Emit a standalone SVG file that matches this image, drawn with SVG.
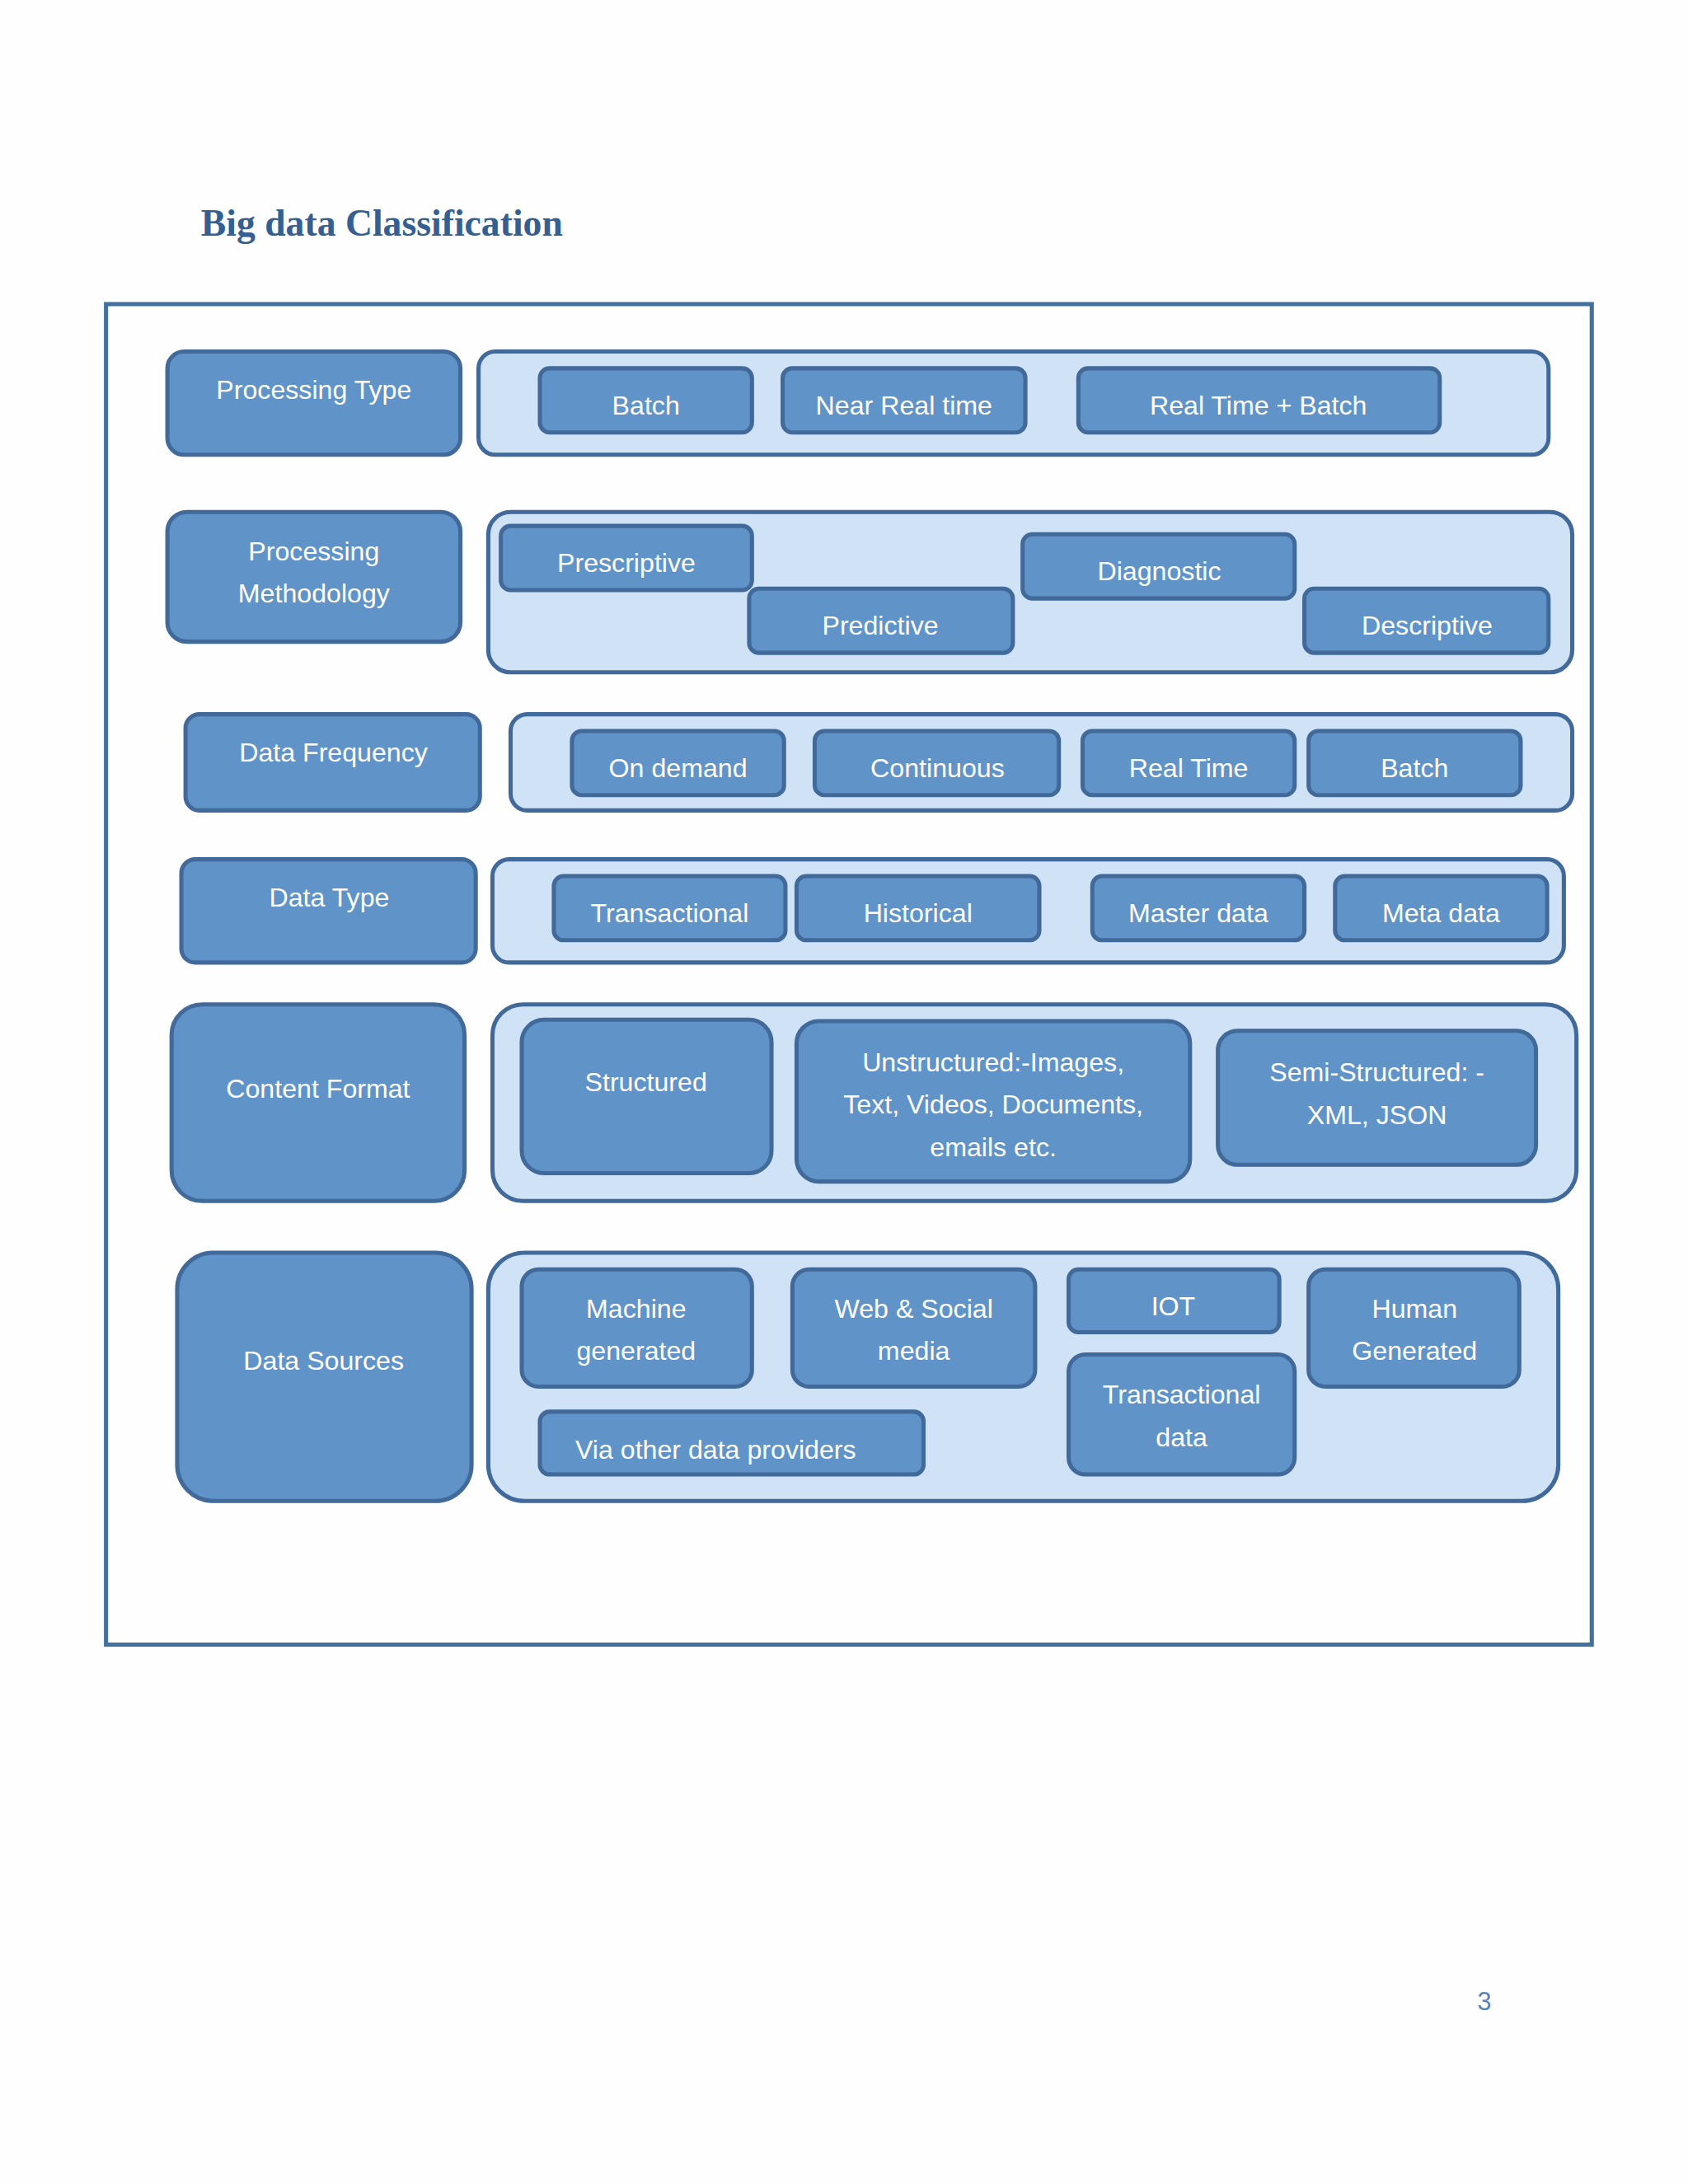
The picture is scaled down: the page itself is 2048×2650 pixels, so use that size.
<svg xmlns="http://www.w3.org/2000/svg" width="2048" height="2650" viewBox="0 0 2048 2650">
<style>
.b{fill:#6094c8;stroke:#41699a;stroke-width:3}
.c{fill:#cfe2f6;stroke:#41699a;stroke-width:3}
text{font-family:"Liberation Sans",Arial,sans-serif;font-size:19px;fill:#fff;text-anchor:middle}
</style>
<rect width="2048" height="2650" fill="#fefefe"/>
<g transform="scale(1.6926)">
<text x="144" y="169" style="font-family:'Liberation Serif',serif;font-weight:bold;font-size:27px;fill:#365f91;text-anchor:start">Big data Classification</text>
<rect id="frame" x="76" y="218" width="1065" height="961" fill="#fefefe" stroke="#41719c" stroke-width="3"/>
<g id="processing-type">
<rect class="b" x="120" y="252" width="210" height="74" rx="12"/><text x="225" y="286">Processing Type</text>
<rect class="c" x="343" y="252" width="767" height="74" rx="12"/>
<rect class="b" x="387" y="264" width="152" height="46" rx="7"/><text x="463" y="297">Batch</text>
<rect class="b" x="561" y="264" width="174" height="46" rx="7"/><text x="648" y="297">Near Real time</text>
<rect class="b" x="773" y="264" width="259" height="46" rx="7"/><text x="902" y="297">Real Time + Batch</text>
</g>
<g id="processing-methodology">
<rect class="b" x="120" y="367" width="210" height="93" rx="14"/><text x="225" y="402">Processing</text><text x="225" y="432">Methodology</text>
<rect class="c" x="350" y="367" width="777" height="115" rx="16"/>
<rect class="b" x="359" y="377" width="180" height="46" rx="7"/><text x="449" y="410">Prescriptive</text>
<rect class="b" x="537" y="422" width="189" height="46" rx="7"/><text x="631" y="455">Predictive</text>
<rect class="b" x="733" y="383" width="195" height="46" rx="7"/><text x="831" y="416">Diagnostic</text>
<rect class="b" x="935" y="422" width="175" height="46" rx="7"/><text x="1023" y="455">Descriptive</text>
</g>
<g id="data-frequency">
<rect class="b" x="133" y="512" width="211" height="69" rx="10"/><text x="239" y="546">Data Frequency</text>
<rect class="c" x="366" y="512" width="761" height="69" rx="12"/>
<rect class="b" x="410" y="524" width="152" height="46" rx="7"/><text x="486" y="557">On demand</text>
<rect class="b" x="584" y="524" width="175" height="46" rx="7"/><text x="672" y="557">Continuous</text>
<rect class="b" x="776" y="524" width="152" height="46" rx="7"/><text x="852" y="557">Real Time</text>
<rect class="b" x="938" y="524" width="152" height="46" rx="7"/><text x="1014" y="557">Batch</text>
</g>
<g id="data-type">
<rect class="b" x="130" y="616" width="211" height="74" rx="10"/><text x="236" y="650">Data Type</text>
<rect class="c" x="353" y="616" width="768" height="74" rx="12"/>
<rect class="b" x="397" y="628" width="166" height="46" rx="7"/><text x="480" y="661">Transactional</text>
<rect class="b" x="571" y="628" width="174" height="46" rx="7"/><text x="658" y="661">Historical</text>
<rect class="b" x="783" y="628" width="152" height="46" rx="7"/><text x="859" y="661">Master data</text>
<rect class="b" x="957" y="628" width="152" height="46" rx="7"/><text x="1033" y="661">Meta data</text>
</g>
<g id="content-format">
<rect class="b" x="123" y="720" width="210" height="141" rx="22"/><text x="228" y="787">Content Format</text>
<rect class="c" x="353" y="720" width="777" height="141" rx="22"/>
<rect class="b" x="374" y="731" width="179" height="110" rx="16"/><text x="463" y="782">Structured</text>
<rect class="b" x="571" y="732" width="282" height="115" rx="16"/><text x="712" y="768">Unstructured:-Images,</text><text x="712" y="798">Text, Videos, Documents,</text><text x="712" y="829">emails etc.</text>
<rect class="b" x="873" y="739" width="228" height="96" rx="14"/><text x="987" y="775">Semi-Structured: -</text><text x="987" y="806">XML, JSON</text>
</g>
<g id="data-sources">
<rect class="b" x="127" y="898" width="211" height="178" rx="26"/><text x="232" y="982">Data Sources</text>
<rect class="c" x="350" y="898" width="767" height="178" rx="26"/>
<rect class="b" x="374" y="910" width="165" height="84" rx="12"/><text x="456" y="945">Machine</text><text x="456" y="975">generated</text>
<rect class="b" x="568" y="910" width="174" height="84" rx="12"/><text x="655" y="945">Web &amp; Social</text><text x="655" y="975">media</text>
<rect class="b" x="766" y="910" width="151" height="45" rx="7"/><text x="841" y="943">IOT</text>
<rect class="b" x="938" y="910" width="151" height="84" rx="12"/><text x="1014" y="945">Human</text><text x="1014" y="975">Generated</text>
<rect class="b" x="766" y="971" width="162" height="86" rx="12"/><text x="847" y="1006">Transactional</text><text x="847" y="1037">data</text>
<rect class="b" x="387" y="1012" width="275" height="45" rx="7"/><text x="513" y="1046">Via other data providers</text>
</g>
<text x="1064" y="1441" style="fill:#4f81bd;font-size:18px">3</text>
</g>
</svg>
